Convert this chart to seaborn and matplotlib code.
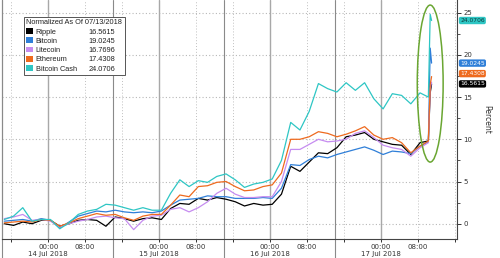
import numpy as np
import pandas as pd
import matplotlib
matplotlib.use("Agg")
import matplotlib.pyplot as plt
import matplotlib.dates as mdates
from matplotlib.patches import Ellipse, Rectangle
from matplotlib.ticker import FuncFormatter, MultipleLocator
from matplotlib import font_manager
import seaborn as sns

# ---------------- data ----------------
names = ["Ripple", "Bitcoin", "Litecoin", "Ethereum", "Bitcoin Cash"]
last_values = [16.5615, 19.0245, 16.7696, 17.4308, 24.0706]
legend_title = "Normalized As Of 07/13/2018"

# hours relative to 14 Jul 2018 00:00
hours = [-9.5, -7.5, -5.5, -3.5, -1.5, 0.5, 2.5, 4.5, 6.5, 8.5, 10.5, 12.5, 14.5,
         16.5, 18.5, 20.5, 22.5, 24.5, 26.5, 28.5, 30.5, 32.5, 34.5, 36.5, 38.5,
         40.5, 42.5, 44.5, 46.5, 48.5, 50.5, 52.5, 54.5, 56.5, 58.5, 60.5, 62.5,
         64.5, 66.5, 68.5, 70.5, 72.5, 74.5, 76.5, 78.5, 80.5, 82.3, 82.7, 83.0]

ripple = [0.0, -0.2, 0.2, 0.0, 0.4, 0.4, -0.3, 0.0, 0.4, 0.5, 0.4, -0.3, 0.8,
          0.6, 0.3, 0.6, 0.7, 0.5, 1.8, 2.4, 2.3, 3.0, 2.8, 3.1, 2.9,
          2.6, 2.1, 2.4, 2.2, 2.3, 3.5, 6.8, 6.2, 7.3, 8.4, 8.3, 9.0,
          10.3, 10.5, 10.8, 10.0, 9.7, 9.4, 9.3, 8.2, 9.6, 9.8, 15.5, 16.5615]
bitcoin = [0.3, 0.4, 0.5, 0.3, 0.6, 0.4, -0.5, 0.2, 0.9, 1.2, 1.5, 1.4, 1.6,
           1.4, 1.3, 1.4, 1.3, 1.5, 2.2, 2.8, 2.9, 3.0, 3.3, 3.2, 3.2,
           3.0, 3.0, 3.0, 3.1, 3.0, 4.2, 7.0, 6.9, 7.6, 8.0, 7.8, 8.2,
           8.5, 8.8, 9.1, 8.7, 8.2, 8.6, 8.5, 8.3, 9.2, 9.7, 20.8, 19.0245]
litecoin = [0.6, 0.8, 1.1, 0.4, 0.5, 0.3, -0.4, 0.0, 0.3, 0.5, 0.8, 0.9, 0.7,
            0.6, -0.7, 0.4, 0.9, 1.0, 1.7, 1.9, 1.4, 1.9, 2.6, 3.6, 4.2,
            3.5, 3.1, 3.1, 3.2, 3.2, 5.0, 8.8, 8.8, 9.4, 10.0, 9.7, 9.8,
            10.0, 10.7, 11.0, 10.2, 9.3, 9.0, 8.8, 8.0, 9.0, 9.6, 16.0, 16.7696]
ethereum = [0.1, 0.2, 0.3, 0.2, 0.5, 0.4, -0.3, 0.1, 0.6, 0.9, 1.2, 1.0, 1.1,
            0.7, 0.4, 0.9, 1.1, 1.1, 2.2, 3.4, 3.2, 4.4, 4.5, 4.9, 5.0,
            4.4, 3.9, 4.0, 4.4, 4.6, 6.0, 10.0, 10.0, 10.3, 10.9, 10.7, 10.3,
            10.6, 11.0, 11.5, 10.5, 10.0, 10.2, 9.6, 8.4, 9.2, 9.8, 16.5, 17.4308]
bitcoin_cash = [0.5, 0.9, 1.9, 0.3, 0.5, 0.5, -0.6, 0.1, 1.1, 1.5, 1.7, 2.3, 2.2,
                1.9, 1.6, 1.9, 1.6, 1.6, 3.6, 5.2, 4.4, 5.1, 4.9, 5.6, 5.9,
                5.2, 4.3, 4.7, 4.9, 5.3, 7.5, 12.0, 11.1, 13.3, 16.6, 16.0, 15.6,
                16.7, 15.8, 16.7, 14.8, 13.6, 15.4, 15.2, 14.2, 15.5, 15.0, 24.8, 24.0706]

colors = ["#000000", "#2f7fd8", "#c68cf0", "#ee6a1e", "#2ec6c4"]
box_text_colors = ["white", "white", "white", "white", "#0b3b3b"]

# ---------------- frame ----------------
base = pd.Timestamp("2018-07-14 00:00")
times = base + pd.to_timedelta(hours, unit="h")
wide = pd.DataFrame({"time": times, "Ripple": ripple, "Bitcoin": bitcoin,
                     "Litecoin": litecoin, "Ethereum": ethereum,
                     "Bitcoin Cash": bitcoin_cash})
long = wide.melt(id_vars="time", var_name="coin", value_name="value")

sns.set_theme(style="white")
plt.rcParams["font.family"] = ["DejaVu Sans"]

available = {f.name for f in font_manager.fontManager.ttflist}
narrow = "Liberation Sans Narrow" if "Liberation Sans Narrow" in available else "Liberation Sans"

fig = plt.figure(figsize=(5.0, 2.58), dpi=100)
ax = fig.add_axes([0.004, 0.074, 0.91, 0.926])

sns.lineplot(data=long, x="time", y="value", hue="coin", hue_order=names,
             palette=dict(zip(names, colors)), linewidth=0.9, ax=ax,
             legend=False, zorder=3)

x0 = base - pd.Timedelta(hours=10)
x1 = base + pd.Timedelta(hours=88.5)
ax.set_xlim(x0, x1)
ax.set_ylim(-1.8, 26.5)
ax.set_xlabel("")

# y axis on the right
ax.yaxis.tick_right()
ax.set_yticks([0, 5, 10, 15, 20, 25])
ax.yaxis.set_minor_locator(MultipleLocator(2.5))
ax.tick_params(axis="y", which="major", length=3, width=0.7, direction="out",
               labelsize=5, pad=1.5, colors="#333333", right=True, left=False)
ax.tick_params(axis="y", which="minor", length=1.8, width=0.6, direction="out",
               colors="#333333", right=True, left=False)
ax.set_ylabel("Percent", rotation=270, fontsize=5.5, color="#333333")
ax.yaxis.set_label_position("right")
ax.yaxis.set_label_coords(1.075, 0.5)

# x axis
ax.xaxis.set_major_locator(mdates.HourLocator(byhour=[0, 8, 16]))


def fmt(x, pos):
    d = mdates.num2date(x)
    if d.hour == 0:
        return d.strftime("%H:%M\n%d %b %Y")
    if d.hour == 8:
        return d.strftime("%H:%M")
    return ""


ax.xaxis.set_major_formatter(FuncFormatter(fmt))
ax.tick_params(axis="x", which="major", length=2.5, width=0.7, direction="out",
               labelsize=5, pad=1.5, colors="#333333", bottom=True)

# grid
ax.yaxis.grid(True, linestyle=(0, (1, 2)), color="#b8b8b8", linewidth=0.8)
ax.xaxis.grid(False)
for t in ax.get_xticks():
    h = mdates.num2date(t).hour
    if h == 0:
        ax.axvline(t, color="#a8a8a8", linewidth=1.0, zorder=1)
    else:
        ax.axvline(t, color="#c0c0c0", linewidth=0.7, linestyle=(0, (1, 2)), zorder=1)

# day separators
for d in range(4):
    sep = pd.Timestamp("2018-07-13 14:00") + pd.Timedelta(days=d)
    ax.axvline(sep, ymin=-0.08, ymax=1, color="#8a8a8a", linewidth=0.8,
               clip_on=False, zorder=1)

ax.spines["top"].set_visible(False)
ax.spines["right"].set_color("#444444")
ax.spines["right"].set_linewidth(0.8)
ax.spines["bottom"].set_color("#444444")
ax.spines["bottom"].set_linewidth(0.8)
ax.spines["left"].set_color("#8a8a8a")
ax.spines["left"].set_linewidth(0.8)

# value tags at the right axis (Litecoin's tag is hidden behind the others)
tag_pos = {0: last_values[0], 1: last_values[1], 3: last_values[3] + 0.35,
           4: last_values[4]}
for i in [1, 4, 3, 0]:
    ax.annotate(f"{last_values[i]:.4f}", xy=(1.0, tag_pos[i]),
                xycoords=("axes fraction", "data"), xytext=(2.2, 0),
                textcoords="offset points", ha="left", va="center",
                fontsize=4.3, color=box_text_colors[i], annotation_clip=False,
                bbox=dict(boxstyle="round,pad=0.2,rounding_size=0.3",
                          fc=colors[i], ec="none"), zorder=5)

# highlight ellipse around the final spike
t_end = mdates.date2num(times[-1])
ell = Ellipse((t_end - 0.3 / 24, 16.6), width=5.6 / 24, height=18.6,
              fill=False, edgecolor="#6aa632", linewidth=1.1, zorder=6,
              clip_on=False)
ax.add_patch(ell)

# legend
handles = [Rectangle((0, 0), 1, 1, fc=c, ec="none") for c in colors]
handles += [Rectangle((0, 0), 1, 1, alpha=0) for _ in colors]
labels = names + [f"{v:.4f}" for v in last_values]
lfont = {"family": [narrow, "DejaVu Sans"], "size": 5.3}
leg = ax.legend(handles, labels, ncol=2, loc="upper left",
                bbox_to_anchor=(0.048, 0.93), borderaxespad=0,
                title=legend_title, title_fontproperties=lfont, prop=lfont,
                alignment="left", handlelength=0.85, handleheight=0.85,
                handletextpad=0.4, columnspacing=0.4, labelspacing=0.24,
                borderpad=0.35, frameon=True, fancybox=False,
                edgecolor="#555555", framealpha=1)
leg.get_frame().set_linewidth(0.7)
for txt in leg.get_texts():
    txt.set_color("#222222")
leg.get_title().set_color("#222222")
leg.set_zorder(7)

fig.savefig("out.png", dpi=100, facecolor="white")
